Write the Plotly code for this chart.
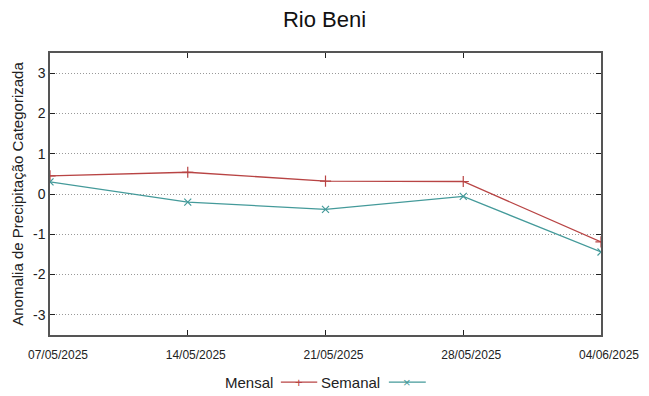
import plotly.graph_objects as go

dates = ["2025-05-07", "2025-05-14", "2025-05-21", "2025-05-28", "2025-06-04"]
tick_labels = ["07/05/2025", "14/05/2025", "21/05/2025", "28/05/2025", "04/06/2025"]
mensal = [0.45, 0.54, 0.32, 0.31, -1.19]
semanal = [0.30, -0.20, -0.38, -0.06, -1.44]
y_ticks = [-3, -2, -1, 0, 1, 2, 3]
y_tick_labels = ["-3", "-2", "-1", "0", "1", "2", "3"]

red = "#b84444"
teal = "#449a9a"

fig = go.Figure()
fig.add_trace(go.Scatter(x=dates, y=mensal, mode="lines+markers", name="Mensal",
                         line=dict(color=red, width=1.3),
                         marker=dict(symbol="cross-thin", size=8, line=dict(color=red, width=1.2)),
                         showlegend=False))
fig.add_trace(go.Scatter(x=dates, y=semanal, mode="lines+markers", name="Semanal",
                         line=dict(color=teal, width=1.3),
                         marker=dict(symbol="x-thin", size=7, line=dict(color=teal, width=1.2)),
                         showlegend=False))

axis_color = "#555555"
fig.update_layout(
    width=649, height=396,
    margin=dict(l=50, r=48, t=53, b=61, autoexpand=False),
    paper_bgcolor="white", plot_bgcolor="white",
    title=dict(text="Rio Beni", x=0.5, xanchor="center", y=0.952, yanchor="middle",
               font=dict(family="Liberation Sans Narrow, Liberation Sans, Arial", size=22, color="#111111")),
    xaxis=dict(type="date", range=[dates[0], dates[-1]], tickvals=dates, ticktext=tick_labels,
               showgrid=False, zeroline=False, showline=True, linecolor=axis_color, linewidth=1.5,
               mirror="ticks", ticks="inside", ticklen=5, tickcolor="#222222",
               ticklabelshift=8, ticklabelstandoff=8,
               tickfont=dict(family="Liberation Sans Narrow, Liberation Sans, Arial", size=12, color="#222222")),
    yaxis=dict(range=[-3.5, 3.5], tickvals=y_ticks, ticktext=y_tick_labels, showgrid=True,
               gridcolor="#999999", griddash="1px,2px", gridwidth=1, zeroline=False, showline=True,
               linecolor=axis_color, linewidth=1.5, mirror="ticks", ticks="inside", ticklen=5,
               tickcolor="#222222",
               tickfont=dict(family="Liberation Sans, Arial", size=14, color="#222222"),
               title=dict(text="Anomalia de Precipitação Categorizada", standoff=6,
                          font=dict(family="Liberation Sans, Arial", size=15, color="#222222"))),
)

# custom legend (text, then line sample with marker), as in the reference
leg_y = -0.167
items = [("Mensal", red, "+", 0.405, 0.419, 0.485), ("Semanal", teal, "×", 0.599, 0.615, 0.682)]
for name, col, sym, tx, x0, x1 in items:
    fig.add_annotation(text=name, xref="paper", yref="paper", x=tx, y=leg_y, xanchor="right",
                       yanchor="middle", showarrow=False, xshift=2,
                       font=dict(family="Liberation Sans, Arial", size=15, color="#222222"))
    fig.add_shape(type="line", xref="paper", yref="paper", x0=x0, x1=x1, y0=leg_y, y1=leg_y,
                  line=dict(color=col, width=1.3))
    fig.add_annotation(text=sym, xref="paper", yref="paper", x=(x0 + x1) / 2, y=leg_y,
                       xanchor="center", yanchor="middle", showarrow=False,
                       font=dict(family="Liberation Sans, Arial", size=13, color=col))

fig.write_html("out.html", config={"displayModeBar": False},
               post_script="document.body.style.margin='0';")
